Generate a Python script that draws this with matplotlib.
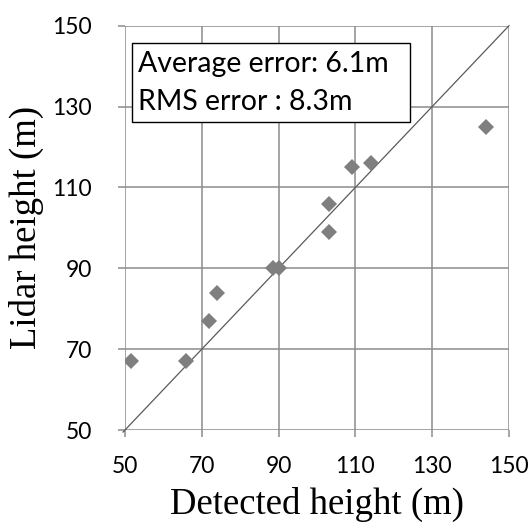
import matplotlib
matplotlib.use('Agg')
import matplotlib.pyplot as plt
from matplotlib.patches import Rectangle

# detected vs lidar building heights (m)
detected = [51.5, 66, 72, 74, 88.5, 90, 103, 103, 109, 114, 144]
lidar = [67, 67, 77, 84, 90, 90, 106, 99, 115, 116, 125]
ticks = [50, 70, 90, 110, 130, 150]
box_lines = ['Average error: 6.1m', 'RMS error : 8.3m']

gridcol = '#8c8c8c'

fig = plt.figure(figsize=(5.29, 5.23), dpi=100)
ax = fig.add_axes([0.2363, 0.1778, 0.9622 - 0.2363, 0.9509 - 0.1778])

ax.plot(detected, lidar, linestyle='none', marker='D', markersize=8.6,
        color='#7f7f7f', markeredgewidth=0, zorder=4)
ax.plot([49.5, 150], [49.5, 150], color='#5a5a5a', linewidth=0.9,
        zorder=3, clip_on=False)

ax.set_xlim(50, 150)
ax.set_ylim(50, 150)
ax.set_xticks(ticks)
ax.set_yticks(ticks)
ax.grid(True, color=gridcol, linewidth=1.1)
ax.set_axisbelow(True)
for s in ax.spines.values():
    s.set_visible(False)
ax.tick_params(direction='out', length=5, width=1.1, color=gridcol,
               labelsize=16.5, labelcolor='black')
ax.tick_params(axis='y', pad=19)
ax.tick_params(axis='x', pad=14)
for lab in ax.get_xticklabels() + ax.get_yticklabels():
    lab.set_fontfamily('Lato')

ax.set_xlabel('Detected height (m)', fontfamily='Liberation Serif',
              fontsize=26.5, labelpad=7)
ax.set_ylabel('Lidar height (m)', fontfamily='Liberation Serif',
              fontsize=26.5, labelpad=6)

ax.add_patch(Rectangle((51.7, 126.2), 124.3 - 51.7, 145.6 - 126.2,
                       facecolor='white', edgecolor='black', linewidth=1.0,
                       zorder=5))
ax.text(53.3, 138.6, box_lines[0], fontfamily='Lato', fontsize=20.5,
        zorder=6, va='baseline')
ax.text(53.3, 129.1, box_lines[1], fontfamily='Lato', fontsize=20.5,
        zorder=6, va='baseline')

fig.savefig('out.png', dpi=100)
